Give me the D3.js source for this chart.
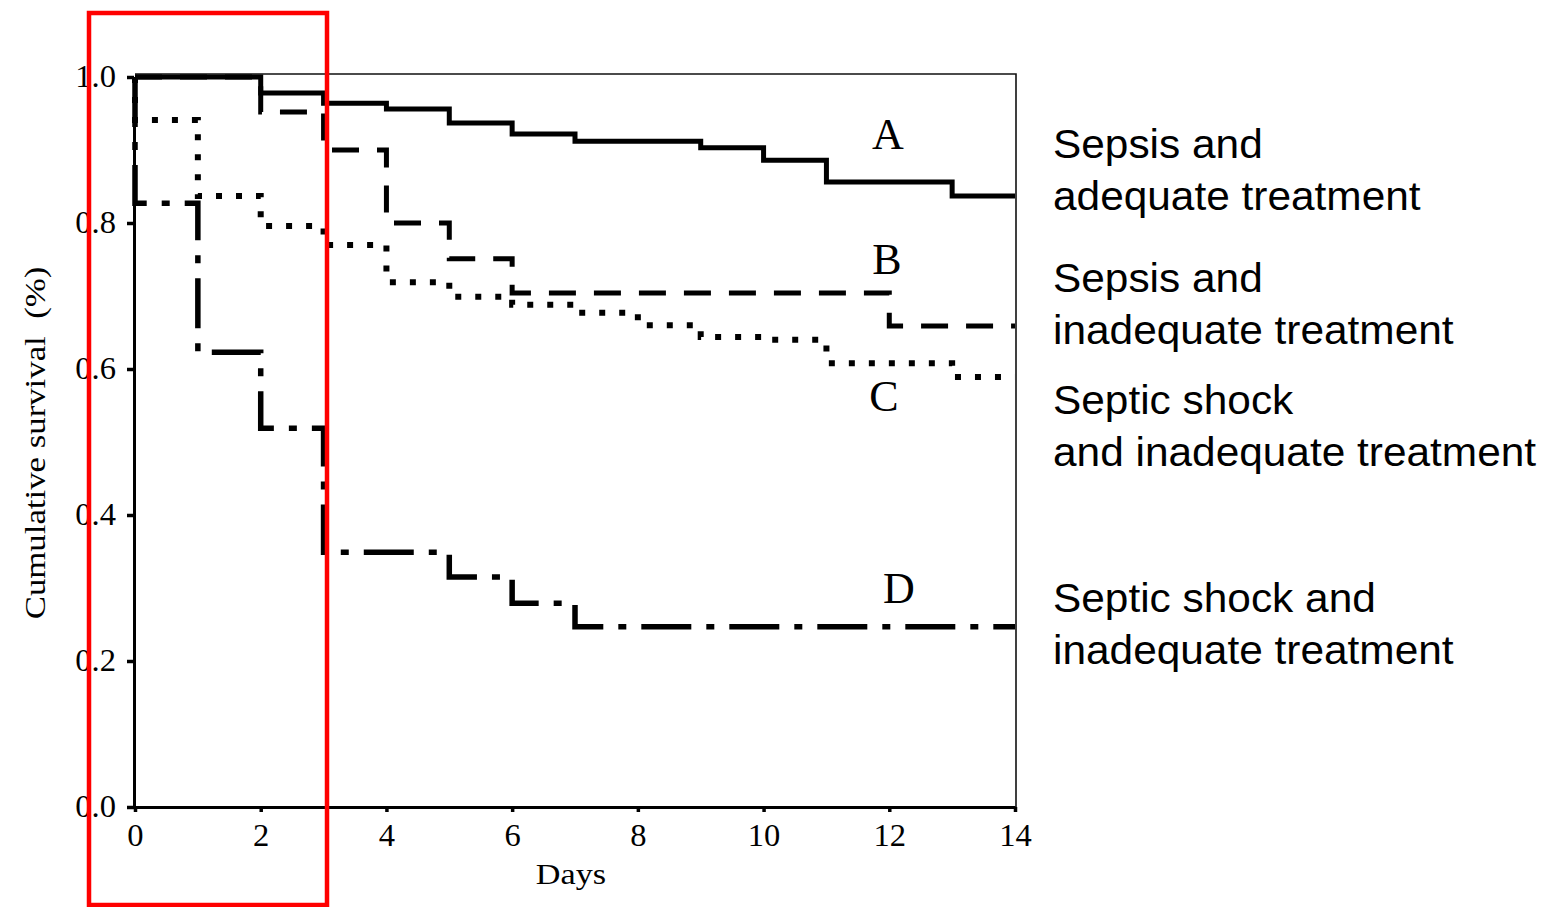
<!DOCTYPE html>
<html>
<head>
<meta charset="utf-8">
<script src="https://cdn.jsdelivr.net/npm/d3@7"></script>
<style>
  html, body { margin: 0; padding: 0; background: #ffffff; }
  svg { display: block; }
</style>
</head>
<body>
<svg id="chart" width="1547" height="907"></svg>
<script>
// ---------- data ----------
const xTicks = [0, 2, 4, 6, 8, 10, 12, 14];
const yTicks = [0.0, 0.2, 0.4, 0.6, 0.8, 1.0];

const daysA = [0, 2, 3, 4, 5, 6, 7, 9, 10, 11, 13];
const survA = [1.0, 0.978, 0.964, 0.956, 0.937, 0.922, 0.912, 0.903, 0.886, 0.856, 0.837];

const daysB = [0, 2, 3, 4, 5, 6, 12];
const survB = [1.0, 0.952, 0.900, 0.800, 0.751, 0.704, 0.659];

const daysC = [0, 1, 2, 3, 4, 5, 6, 7, 8, 9, 10, 11, 13];
const survC = [0.941, 0.837, 0.796, 0.770, 0.719, 0.699, 0.688, 0.677, 0.660, 0.644, 0.640, 0.608, 0.589];

const daysD = [0, 1, 2, 3, 5, 6, 7];
const survD = [0.827, 0.623, 0.519, 0.349, 0.315, 0.279, 0.247];

const curveLetters = ["A", "B", "C", "D"];
const legendLines = [
  ["Sepsis and", "adequate treatment"],
  ["Sepsis and", "inadequate treatment"],
  ["Septic shock", "and inadequate treatment"],
  ["Septic shock and", "inadequate treatment"]
];
const xTitle = "Days";
const yTitle = "Cumulative survival  (%)";
const endDay = 14;

// ---------- layout ----------
const svg = d3.select("#chart");
const x = d3.scaleLinear().domain([0, 14]).range([135, 1015]);
const y = d3.scaleLinear().domain([0, 1]).range([807, 77]);

const serif = "'Liberation Serif', 'Times New Roman', serif";
const sans = "'Liberation Sans', Arial, sans-serif";

// frame (top and right thin lines)
svg.append("path")
  .attr("d", `M${x(0)},${y(1) - 3} H${x(14) + 1} V${y(0)}`)
  .attr("fill", "none").attr("stroke", "#111").attr("stroke-width", 1.6);

// axes
const yAxis = d3.axisLeft(y).tickValues(yTicks).tickFormat(d3.format(".1f"))
  .tickSize(7).tickSizeOuter(0).tickPadding(11);
const gy = svg.append("g").attr("transform", `translate(${x(0) - 1},0)`).call(yAxis);

const xAxis = d3.axisBottom(x).tickValues(xTicks).tickFormat(d3.format("d"))
  .tickSize(5).tickSizeOuter(0).tickPadding(12);
const gx = svg.append("g").attr("transform", `translate(0,${y(0)})`).call(xAxis);

[gx, gy].forEach(g => {
  g.attr("font-size", null).attr("font-family", null);
  g.select(".domain").attr("stroke", "#000").attr("stroke-width", 3);
  g.selectAll(".tick line").attr("stroke", "#000").attr("stroke-width", 3.5);
  g.selectAll(".tick text")
    .attr("fill", "#000")
    .style("font-family", serif)
    .style("font-size", "31px");
});
const sx = 1.05;
gx.selectAll(".tick text").attr("transform", `scale(${sx},1)`);
gy.selectAll(".tick text").each(function () {
  const t = d3.select(this);
  const xx = +t.attr("x");
  t.attr("x", xx / sx).attr("transform", `scale(${sx},1)`);
});

// curves
const series = [
  { days: daysA, surv: survA, dash: null, width: 5 },
  { days: daysB, surv: survB, dash: "27,18", width: 5 },
  { days: daysC, surv: survC, dash: "6,14", width: 6 },
  { days: daysD, surv: survD, dash: "50,15,8,15", width: 5.5 }
];
const line = d3.line().x(d => x(d[0])).y(d => y(d[1])).curve(d3.curveStepAfter);

series.forEach(s => {
  const pts = [[0, 1.0]];
  s.days.forEach((d, i) => pts.push([d, s.surv[i]]));
  pts.push([endDay, s.surv[s.surv.length - 1]]);
  svg.append("path")
    .attr("d", line(pts))
    .attr("fill", "none")
    .attr("stroke", "#000")
    .attr("stroke-width", s.width)
    .attr("stroke-linejoin", "miter")
    .attr("stroke-dasharray", s.dash);
});

// curve letters
const letterPos = [[888, 149], [887, 274], [884, 411], [899, 603]];
curveLetters.forEach((L, i) => {
  svg.append("text")
    .attr("x", letterPos[i][0]).attr("y", letterPos[i][1])
    .attr("text-anchor", "middle")
    .style("font-family", serif).style("font-size", "44px")
    .attr("fill", "#000")
    .text(L);
});

// axis titles
svg.append("text")
  .attr("transform", `translate(571,884) scale(1.18,1)`)
  .attr("text-anchor", "middle")
  .style("font-family", serif).style("font-size", "29px")
  .attr("fill", "#000")
  .text(xTitle);

svg.append("text")
  .attr("transform", `translate(45,443) rotate(-90) scale(1.2,1)`)
  .attr("text-anchor", "middle")
  .style("font-family", serif).style("font-size", "29px")
  .style("white-space", "pre")
  .attr("xml:space", "preserve")
  .attr("fill", "#000")
  .text(yTitle);

// right-hand legend text
const legendBase = [158, 292, 414, 612];
legendLines.forEach((lines, i) => {
  lines.forEach((txt, j) => {
    svg.append("text")
      .attr("transform", `translate(1053,${legendBase[i] + j * 52}) scale(1.06,1)`)
      .style("font-family", sans).style("font-size", "40px")
      .attr("fill", "#000")
      .text(txt);
  });
});

// red highlight box
svg.append("rect")
  .attr("x", 89).attr("y", 13).attr("width", 238).attr("height", 892)
  .attr("fill", "none").attr("stroke", "#ff0000").attr("stroke-width", 4.5);
</script>
</body>
</html>
